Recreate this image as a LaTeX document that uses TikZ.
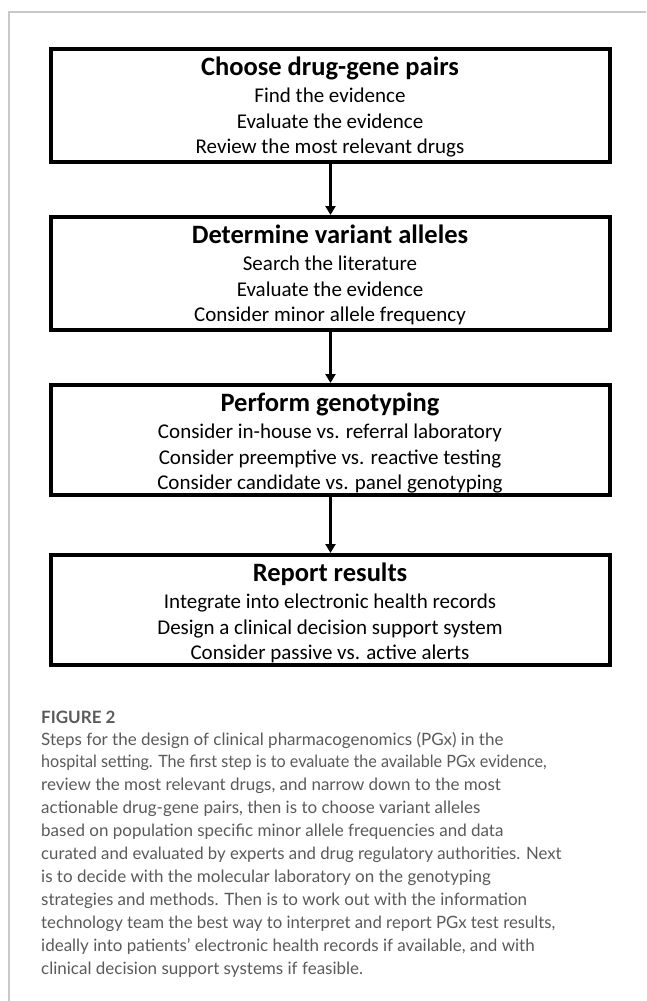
\documentclass[tikz,border=0pt]{standalone}
\usepackage{fontspec}
\usepackage{graphicx}
\setmainfont{Carlito}
\newfontfamily\capfont{Lato}
\usetikzlibrary{arrows.meta}
\definecolor{capgray}{HTML}{5A5A5A}
\definecolor{framegray}{HTML}{C8C8C8}
\tikzset{
  stepbox/.style={draw=black, line width=4pt, rectangle, inner sep=0pt, minimum width=559pt},
  steptitle/.style={anchor=base, inner sep=0pt, font=\fontsize{26.5}{30}\selectfont\bfseries},
  stepline/.style={anchor=base, inner sep=0pt, font=\fontsize{21}{24}\selectfont},
  flow/.style={line width=2.5pt, -{Triangle[width=10pt,length=9pt]}},
  capline/.style={anchor=base west, inner sep=0pt, text=capgray, font=\capfont\fontsize{17}{20}\selectfont},
}
\begin{document}
\begin{tikzpicture}[x=1pt,y=-1pt]
\useasboundingbox (0,0) rectangle (646,1001);
\fill[white] (0,0) rectangle (646,1001);
\draw[framegray, line width=1.2pt] (646,12) -- (9,12) -- (9,1001);
% boxes
\node[stepbox, minimum height=113pt] (b1) at (330.5,105.5) {};
\node[stepbox, minimum height=113pt] (b2) at (330.5,273.5) {};
\node[stepbox, minimum height=110pt] (b3) at (330.5,440) {};
\node[stepbox, minimum height=110pt] (b4) at (330.5,610) {};
% box 1
\node[steptitle] (t1) at (330,75) {Choose drug-gene pairs};
\node[stepline] (t1a) at (330,102.5) {Find the evidence};
\node[stepline] (t1b) at (330,128) {Evaluate the evidence};
\node[stepline] (t1c) at (330,153) {Review the most relevant drugs};
% box 2
\node[steptitle] (t2) at (330,243) {Determine variant alleles};
\node[stepline] (t2a) at (330,270.5) {Search the literature};
\node[stepline] (t2b) at (330,296) {Evaluate the evidence};
\node[stepline] (t2c) at (330,321) {Consider minor allele frequency};
% box 3
\node[steptitle] (t3) at (330,411) {Perform genotyping};
\node[stepline] (t3a) at (330,438.5) {Consider in-house vs. referral laboratory};
\node[stepline] (t3b) at (330,464) {Consider preemptive vs. reactive testing};
\node[stepline] (t3c) at (330,489) {Consider candidate vs. panel genotyping};
% box 4
\node[steptitle] (t4) at (330,581) {Report results};
\node[stepline] (t4a) at (330,608.5) {Integrate into electronic health records};
\node[stepline] (t4b) at (330,634) {Design a clinical decision support system};
\node[stepline] (t4c) at (330,659) {Consider passive vs. active alerts};
% arrows
\draw[flow] (b1.south) -- (b2.north);
\draw[flow] (b2.south) -- (b3.north);
\draw[flow] (b3.south) -- (b4.north);
% caption
\node[capline, font=\capfont\fontsize{17}{20}\selectfont\bfseries] (c0) at (41,723) {FIGURE 2};
\node[capline] (c1) at (41,745) {Steps for the design of clinical pharmacogenomics (PGx) in the};
\node[capline] (c2) at (41,767.9) {\scalebox{0.95}[1]{hospital setting. The first step is to evaluate the available PGx evidence,}};
\node[capline] (c3) at (41,790.8) {review the most relevant drugs, and narrow down to the most};
\node[capline] (c4) at (41,813.7) {actionable drug-gene pairs, then is to choose variant alleles};
\node[capline] (c5) at (41,836.6) {based on population specific minor allele frequencies and data};
\node[capline] (c6) at (41,859.5) {\scalebox{0.985}[1]{curated and evaluated by experts and drug regulatory authorities. Next}};
\node[capline] (c7) at (41,882.4) {is to decide with the molecular laboratory on the genotyping};
\node[capline] (c8) at (41,905.3) {strategies and methods. Then is to work out with the information};
\node[capline] (c9) at (41,928.2) {\scalebox{0.985}[1]{technology team the best way to interpret and report PGx test results,}};
\node[capline] (c10) at (41,951.1) {ideally into patients’ electronic health records if available, and with};
\node[capline] (c11) at (41,974) {clinical decision support systems if feasible.};
\end{tikzpicture}
\end{document}
